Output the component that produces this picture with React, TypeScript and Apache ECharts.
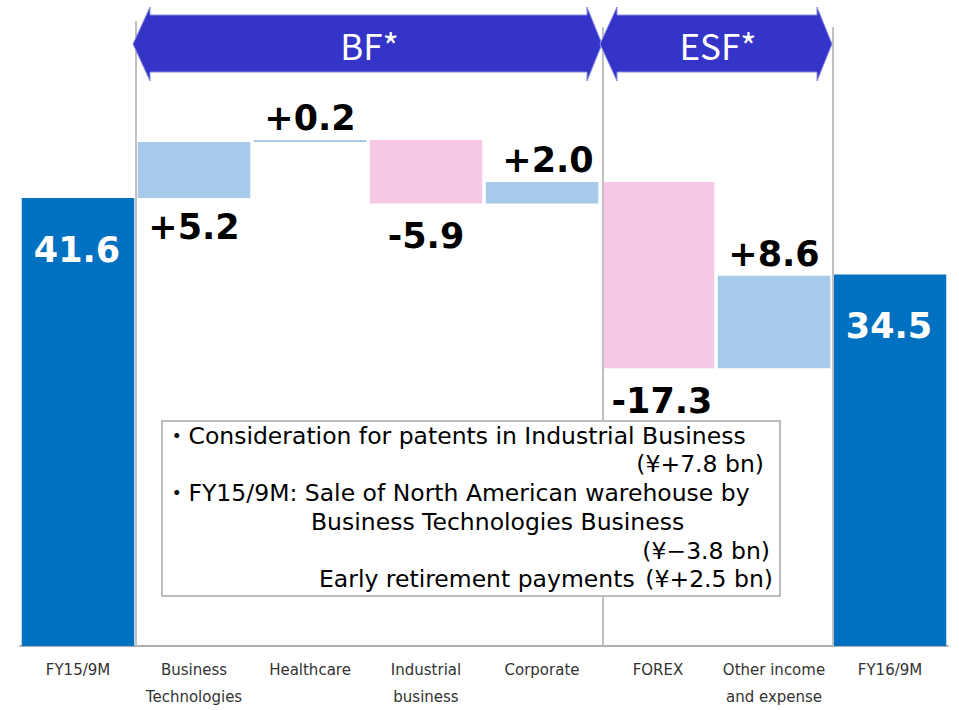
import React, { useEffect, useRef } from 'react';
import * as echarts from 'echarts';

const categories = [
  'FY15/9M',
  'Business\nTechnologies',
  'Healthcare',
  'Industrial\nbusiness',
  'Corporate',
  'FOREX',
  'Other income\nand expense',
  'FY16/9M',
];
const changes = [41.6, 5.2, 0.2, -5.9, 2.0, -17.3, 8.6, 34.5];
const isTotal = [true, false, false, false, false, false, false, true];
const valueLabels = ['41.6', '+5.2', '+0.2', '-5.9', '+2.0', '-17.3', '+8.6', '34.5'];
const labelSide = ['inside', 'bottom', 'top', 'bottom', 'top', 'bottom', 'top', 'inside'];
const groupNames = ['BF*', 'ESF*'];
const groupFrom = [1, 5];
const groupTo = [4, 6];
const noteLeft = [
  '・Consideration for patents in Industrial Business',
  '',
  '・FY15/9M: Sale of North American warehouse by',
  'Business Technologies Business',
  '',
  'Early retirement payments',
];
const noteRight = ['', '(¥+7.8 bn)', '', '', '(¥−3.8 bn)', '(¥+2.5 bn)'];

const TOTAL_COLOR = '#0070C0';
const UP_COLOR = '#A7C9EA';
const DOWN_COLOR = '#F6C8E6';
const ARROW_COLOR = '#3434C9';
const LABEL_FONT = '"DejaVu Sans", Verdana, sans-serif';
const JP_FONT = '"Noto Sans CJK JP", "Noto Sans", sans-serif';
const NOTE_FONT = '"DejaVu Sans", "Noto Sans CJK JP", sans-serif';

function buildSeries() {
  const base: number[] = [];
  const size: any[] = [];
  let running = 0;
  changes.forEach((v, i) => {
    let b: number;
    let s: number;
    if (isTotal[i]) {
      b = 0;
      s = v;
      running = v;
    } else {
      const start = running;
      const end = running + v;
      b = Math.min(start, end);
      s = Math.abs(v);
      running = end;
    }
    base.push(b);
    const color = isTotal[i] ? TOTAL_COLOR : v >= 0 ? UP_COLOR : DOWN_COLOR;
    const side = labelSide[i];
    let distance = 4;
    if (side === 'inside') distance = 34;
    else if (side === 'bottom') distance = v < 0 ? 15 : 11;
    const nudge = isTotal[i] ? -1 : side === 'top' && v > 1 && v < 5 ? 6 : v < -10 ? 4 : 0;
    const label: any = {
      show: true,
      formatter: valueLabels[i],
      fontFamily: LABEL_FONT,
      fontWeight: 'bold',
      fontSize: 35,
      color: side === 'inside' ? '#ffffff' : '#000000',
      position: side === 'inside' ? 'insideTop' : side,
      distance,
      offset: [nudge, 0],
    };
    size.push({ value: s, itemStyle: { color }, label });
  });
  return { base, size };
}

export default function App() {
  const ref = useRef<HTMLDivElement>(null);
  useEffect(() => {
    document.body.style.margin = '0';
    document.documentElement.style.overflow = 'hidden';
    const chart = echarts.init(ref.current!, null, { renderer: 'svg' });
    const { base, size } = buildSeries();
    chart.setOption({
      animation: false,
      backgroundColor: '#ffffff',
      grid: { left: 20, right: 11, top: 0, bottom: 64, containLabel: false, outerBoundsMode: 'none' },
      xAxis: {
        type: 'category',
        data: categories,
        axisLine: { show: true, lineStyle: { color: '#b0b0b0', width: 2 } },
        axisTick: { show: false },
        axisLabel: {
          color: '#333333',
          fontSize: 15,
          lineHeight: 27,
          margin: 10,
          fontFamily: NOTE_FONT,
          interval: 0,
        },
      },
      yAxis: { type: 'value', min: 0, max: 60, show: false },
      series: [
        {
          type: 'bar',
          stack: 'wf',
          data: base,
          barWidth: '97%',
          itemStyle: { color: 'rgba(0,0,0,0)' },
          silent: true,
          label: { show: false },
        },
        {
          type: 'bar',
          stack: 'wf',
          data: size,
          barWidth: '97%',
        },
      ],
    });

    const cx = (i: number) => (chart.convertToPixel({ gridIndex: 0 }, [i, 0]) as number[])[0];
    const yBottom = (chart.convertToPixel({ gridIndex: 0 }, [0, 0]) as number[])[1];
    const step = cx(1) - cx(0);
    const boundary = (k: number) => cx(k) - step / 2;

    const graphics: any[] = [];
    const seps = [
      { k: 1, top: 21, dx: 0 },
      { k: 5, top: 27, dx: 3 },
      { k: 7, top: 27, dx: 1 },
    ];
    seps.forEach((s) => {
      const x = boundary(s.k) + s.dx;
      graphics.push({
        type: 'line',
        z: 5,
        shape: { x1: x, y1: s.top, x2: x, y2: yBottom },
        style: { stroke: '#c0c0c0', lineWidth: 2 },
      });
    });
    groupNames.forEach((name, gi) => {
      const L = boundary(groupFrom[gi]) + (gi === 0 ? -3 : 0);
      const R = boundary(groupTo[gi] + 1) + (gi === 0 ? 2 : 0);
      const yc = 44;
      const headTop = 7;
      const headBot = 81;
      const bodyTop = 15;
      const bodyBot = 72;
      const hwL = 17;
      const hwR = 15;
      graphics.push({
        type: 'polygon',
        z: 20,
        shape: {
          points: [
            [L, yc],
            [L + hwL, headTop],
            [L + hwL, bodyTop],
            [R - hwR, bodyTop],
            [R - hwR, headTop],
            [R, yc],
            [R - hwR, headBot],
            [R - hwR, bodyBot],
            [L + hwL, bodyBot],
            [L + hwL, headBot],
          ],
        },
        style: { fill: ARROW_COLOR, stroke: '#8c8ce0', lineWidth: 1 },
      });
      graphics.push({
        type: 'text',
        z: 21,
        x: (L + R) / 2 + 2,
        y: yc,
        style: {
          text: name,
          fill: '#ffffff',
          fontSize: 35,
          fontFamily: JP_FONT,
          align: 'center',
          verticalAlign: 'middle',
        },
      });
    });
    const boxX = 162;
    const boxY = 421;
    const boxW = 618;
    const boxH = 175;
    graphics.push({
      type: 'rect',
      z: 30,
      shape: { x: boxX, y: boxY, width: boxW, height: boxH },
      style: { fill: '#ffffff', stroke: '#a8a8a8', lineWidth: 1.5 },
    });
    const lineY = [436, 464, 493, 522, 551, 579];
    const leftX = [165, 0, 165, 311, 0, 319];
    const rightX = [0, 764, 0, 0, 770, 773];
    const noteStyle = {
      fill: '#000000',
      fontSize: 23.5,
      lineHeight: 26,
      fontFamily: NOTE_FONT,
      verticalAlign: 'middle',
    };
    noteLeft.forEach((t, i) => {
      if (!t) return;
      graphics.push({
        type: 'text',
        z: 31,
        x: leftX[i],
        y: lineY[i],
        style: { ...noteStyle, text: t, align: 'left' },
      });
    });
    noteRight.forEach((t, i) => {
      if (!t) return;
      graphics.push({
        type: 'text',
        z: 31,
        x: rightX[i],
        y: lineY[i],
        style: { ...noteStyle, text: t, align: 'right' },
      });
    });
    chart.setOption({ graphic: graphics });
    return () => chart.dispose();
  }, []);
  return (
    <div
      ref={ref}
      style={{ position: 'fixed', left: 0, top: 0, width: 959, height: 710 }}
    />
  );
}
